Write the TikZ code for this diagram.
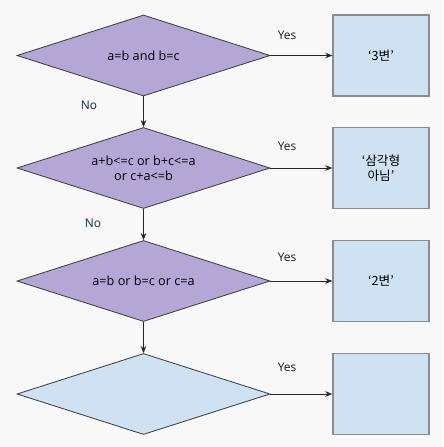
\documentclass[tikz,border=0pt]{standalone}
\usepackage{fontspec}
\setmainfont{Open Sans}
\newfontfamily\kr{Noto Sans CJK KR}
\usetikzlibrary{shapes.geometric,arrows.meta}
\definecolor{purp}{HTML}{B4A7D6}
\definecolor{lblue}{HTML}{CFE2F3}
\definecolor{bgray}{HTML}{F8F8F8}
\definecolor{nblue}{HTML}{0B2A5A}
\tikzset{
	decision/.style={diamond, draw=black!75, fill=purp, line width=0.6pt, inner sep=0pt,
		minimum width=6.325cm, minimum height=2.025cm},
	dtext/.style={align=center, font=\fontsize{9}{11}\selectfont},
	result/.style={rectangle, draw=black!45, fill=lblue, line width=1pt, inner sep=0pt,
		minimum width=2.4cm, minimum height=2.025cm, align=center, font=\kr\fontsize{9}{11}\selectfont},
	yeslab/.style={font=\fontsize{8.5}{10}\selectfont, text=black!90},
	nolab/.style={font=\fontsize{8.5}{10}\selectfont, text=nblue},
	flow/.style={->, draw=black!85, line width=0.5pt}
}
\begin{document}
\begin{tikzpicture}[x=0.025cm, y=-0.025cm, >={Stealth[length=5pt,width=4pt]}]
	\def\dx{143.5} \def\bx{381} % centres (px)
	\fill[bgray] (0,0) rectangle (443,447);
	\useasboundingbox (0,0) rectangle (443,447);
	% decisions
	\node[decision, label={[dtext]center:a=b and b=c}] (d1) at (\dx,55.5) {};
	\node[decision, label={[dtext]center:a+b<=c or b+c<=a\\or c+a<=b}] (d2) at (\dx,168) {};
	\node[decision, label={[dtext]center:a=b or b=c or c=a}] (d3) at (\dx,281) {};
	\node[decision, fill=lblue] (d4) at (\dx,394) {};
	% results
	\node[result] (r1) at (\bx,55.5) {‘3변’};
	\node[result] (r2) at (\bx,168) {‘삼각형\\아님’};
	\node[result] (r3) at (\bx,281) {‘2변’};
	\node[result] (r4) at (\bx,394) {};
	% connectors
	\foreach \i in {1,...,4} \draw[flow] (d\i.east) -- (r\i.west);
	\foreach \i/\j in {1/2,2/3,3/4} \draw[flow] (d\i.south) -- (d\j.north);
	% labels
	\node[yeslab] (y1) at (287,35) {Yes};
	\node[yeslab] (y2) at (287,146) {Yes};
	\node[yeslab] (y3) at (287,257) {Yes};
	\node[yeslab] (y4) at (287,367) {Yes};
	\node[nolab] (n1) at (89,105) {No};
	\node[nolab] (n2) at (93,223) {No};
\end{tikzpicture}
\end{document}
